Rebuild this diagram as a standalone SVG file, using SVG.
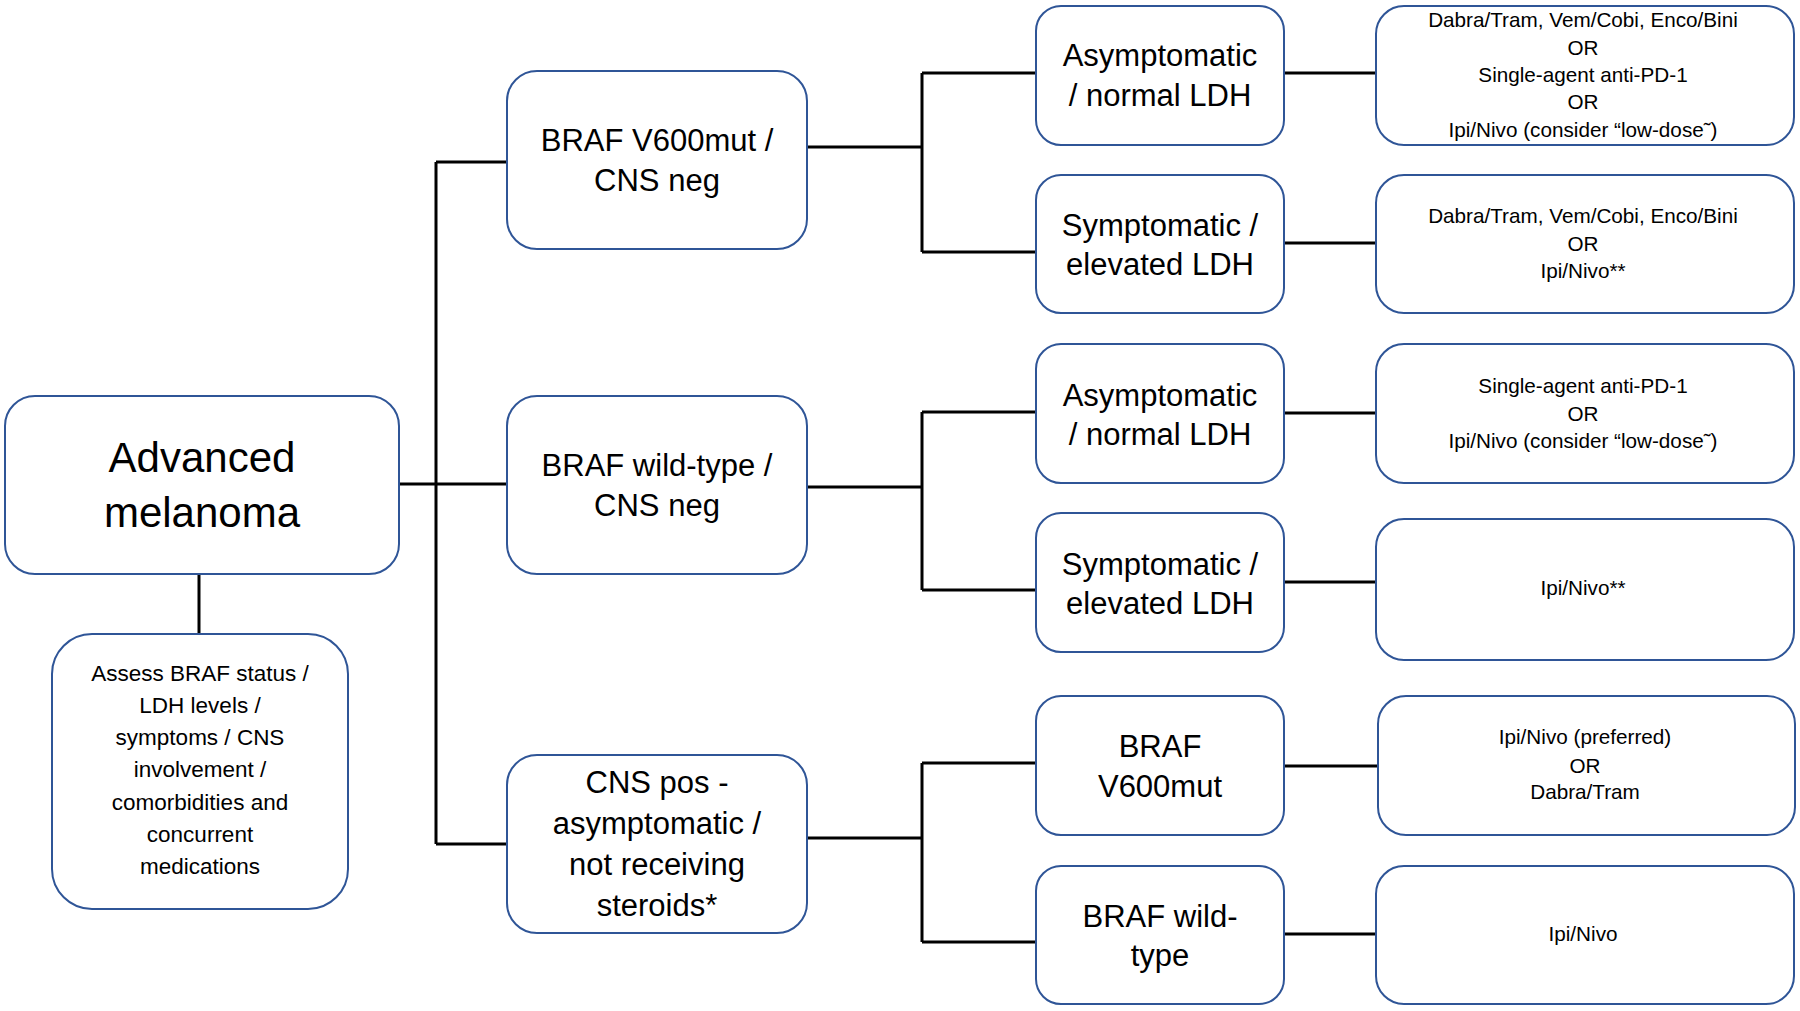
<svg xmlns="http://www.w3.org/2000/svg" width="1800" height="1011" viewBox="0 0 1800 1011">
<style>
.box{fill:#fff;stroke:#2F5597;stroke-width:2}
.t{font-family:"Liberation Sans",Arial,sans-serif;fill:#000;text-anchor:middle}
.t42{font-size:42px}
.t31{font-size:31px}
.t23{font-size:22.5px}
.t20{font-size:20.7px}
.c{fill:none;stroke:#000;stroke-width:3}
</style>
<rect width="1800" height="1011" fill="#fff"/>
<g id="connectors">
<path class="c" d="M199 574V634"/>
<path class="c" d="M399 484H507M436 162V844M436 162H507M436 844H507"/>
<path class="c" d="M807 147H922M922 73V252M922 73H1036M922 252H1036"/>
<path class="c" d="M807 487H922M922 412V590M922 412H1036M922 590H1036"/>
<path class="c" d="M807 838H922M922 763V942M922 763H1036M922 942H1036"/>
<path class="c" d="M1284 73H1376M1284 243H1376M1284 413H1376M1284 582H1376M1284 766H1377M1284 934H1376"/>
</g>
<g id="n-melanoma">
<rect class="box" x="5" y="396" width="394" height="178" rx="30"/>
<text class="t t42" x="202" y="472">Advanced</text>
<text class="t t42" x="202" y="527">melanoma</text>
</g>
<g id="n-assess">
<rect class="box" x="52" y="634" width="296" height="275" rx="40"/>
<text class="t t23" x="200" y="681">Assess BRAF status /</text>
<text class="t t23" x="200" y="713">LDH levels /</text>
<text class="t t23" x="200" y="745">symptoms / CNS</text>
<text class="t t23" x="200" y="777">involvement /</text>
<text class="t t23" x="200" y="810">comorbidities and</text>
<text class="t t23" x="200" y="842">concurrent</text>
<text class="t t23" x="200" y="874">medications</text>
</g>
<g id="n-braf-mut">
<rect class="box" x="507" y="71" width="300" height="178" rx="30"/>
<text class="t t31" x="657" y="151">BRAF V600mut /</text>
<text class="t t31" x="657" y="191">CNS neg</text>
</g>
<g id="n-braf-wt">
<rect class="box" x="507" y="396" width="300" height="178" rx="30"/>
<text class="t t31" x="657" y="476">BRAF wild-type /</text>
<text class="t t31" x="657" y="516">CNS neg</text>
</g>
<g id="n-cns-pos">
<rect class="box" x="507" y="755" width="300" height="178" rx="30"/>
<text class="t t31" x="657" y="793">CNS pos -</text>
<text class="t t31" x="657" y="834">asymptomatic /</text>
<text class="t t31" x="657" y="875">not receiving</text>
<text class="t t31" x="657" y="916">steroids*</text>
</g>
<g id="n-asym1">
<rect class="box" x="1036" y="6" width="248" height="139" rx="25"/>
<text class="t t31" x="1160" y="66">Asymptomatic</text>
<text class="t t31" x="1160" y="106">/ normal LDH</text>
</g>
<g id="n-sym1">
<rect class="box" x="1036" y="175" width="248" height="138" rx="25"/>
<text class="t t31" x="1160" y="236">Symptomatic /</text>
<text class="t t31" x="1160" y="275">elevated LDH</text>
</g>
<g id="n-asym2">
<rect class="box" x="1036" y="344" width="248" height="139" rx="25"/>
<text class="t t31" x="1160" y="406">Asymptomatic</text>
<text class="t t31" x="1160" y="445">/ normal LDH</text>
</g>
<g id="n-sym2">
<rect class="box" x="1036" y="513" width="248" height="139" rx="25"/>
<text class="t t31" x="1160" y="575">Symptomatic /</text>
<text class="t t31" x="1160" y="614">elevated LDH</text>
</g>
<g id="n-cns-mut">
<rect class="box" x="1036" y="696" width="248" height="139" rx="25"/>
<text class="t t31" x="1160" y="757">BRAF</text>
<text class="t t31" x="1160" y="797">V600mut</text>
</g>
<g id="n-cns-wt">
<rect class="box" x="1036" y="866" width="248" height="138" rx="25"/>
<text class="t t31" x="1160" y="927">BRAF wild-</text>
<text class="t t31" x="1160" y="966">type</text>
</g>
<g id="n-tx1">
<rect class="box" x="1376" y="6" width="418" height="139" rx="28"/>
<text class="t t20" x="1583" y="27">Dabra/Tram, Vem/Cobi, Enco/Bini</text>
<text class="t t20" x="1583" y="55">OR</text>
<text class="t t20" x="1583" y="82">Single-agent anti-PD-1</text>
<text class="t t20" x="1583" y="109">OR</text>
<text class="t t20" x="1583" y="137">Ipi/Nivo (consider “low-dose˜)</text>
</g>
<g id="n-tx2">
<rect class="box" x="1376" y="175" width="418" height="138" rx="28"/>
<text class="t t20" x="1583" y="223">Dabra/Tram, Vem/Cobi, Enco/Bini</text>
<text class="t t20" x="1583" y="251">OR</text>
<text class="t t20" x="1583" y="278">Ipi/Nivo**</text>
</g>
<g id="n-tx3">
<rect class="box" x="1376" y="344" width="418" height="139" rx="28"/>
<text class="t t20" x="1583" y="393">Single-agent anti-PD-1</text>
<text class="t t20" x="1583" y="421">OR</text>
<text class="t t20" x="1583" y="448">Ipi/Nivo (consider “low-dose˜)</text>
</g>
<g id="n-tx4">
<rect class="box" x="1376" y="519" width="418" height="141" rx="28"/>
<text class="t t20" x="1583" y="595">Ipi/Nivo**</text>
</g>
<g id="n-tx5">
<rect class="box" x="1378" y="696" width="417" height="139" rx="28"/>
<text class="t t20" x="1585" y="744">Ipi/Nivo (preferred)</text>
<text class="t t20" x="1585" y="773">OR</text>
<text class="t t20" x="1585" y="799">Dabra/Tram</text>
</g>
<g id="n-tx6">
<rect class="box" x="1376" y="866" width="418" height="138" rx="28"/>
<text class="t t20" x="1583" y="941">Ipi/Nivo</text>
</g>
</svg>
